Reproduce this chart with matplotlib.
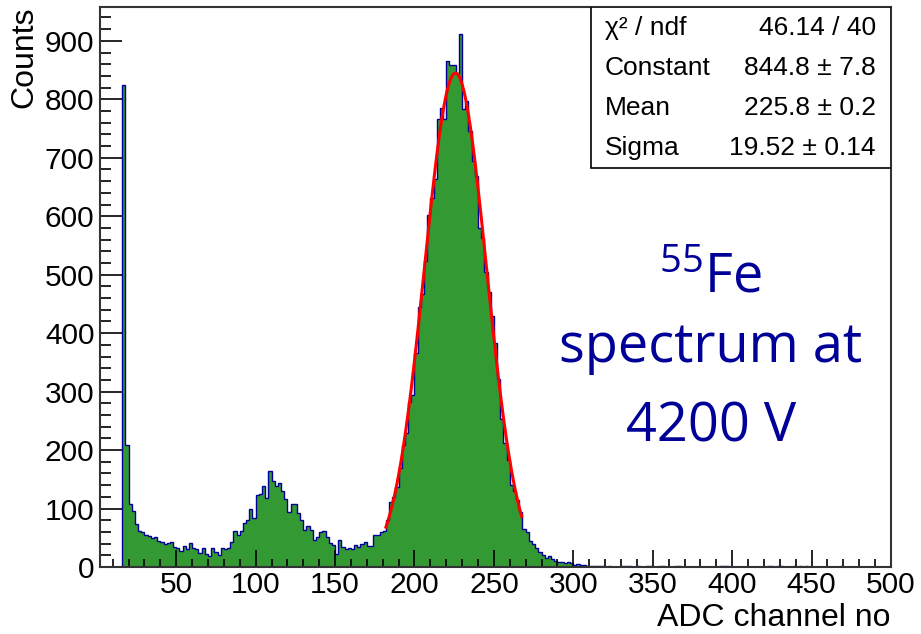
import numpy as np
import matplotlib
matplotlib.use('Agg')
import matplotlib.pyplot as plt
from matplotlib.ticker import MultipleLocator
from matplotlib.patches import Rectangle

plt.rcParams['font.family'] = ['Liberation Sans', 'DejaVu Sans']
plt.rcParams['mathtext.fontset'] = 'custom'
plt.rcParams['mathtext.rm'] = 'Open Sans'

# histogram: bins of 2 ADC channels, first bin starts at channel 16
bin_width = 2
first_bin = 16
counts_main = [
    825, 209, 108, 96, 73, 62, 60, 54, 53, 50,
    52, 45, 42, 40, 41, 42, 35, 33, 28, 36,
    31, 41, 32, 31, 24, 32, 23, 19, 32, 26,
    21, 32, 31, 32, 42, 61, 55, 62, 75, 80,
    100, 83, 123, 125, 138, 118, 165, 147, 138, 144,
    130, 116, 94, 108, 107, 93, 81, 64, 70, 63,
    47, 52, 59, 61, 51, 41, 38, 23, 46, 34,
    31, 32, 31, 38, 34, 39, 43, 36, 36, 54,
    55, 60, 62, 80, 112, 120, 136, 170, 208, 230,
    283, 295, 366, 444, 467, 524, 602, 632, 664, 767,
    786, 766, 866, 859, 859, 845, 912, 783, 798, 745,
    694, 668, 580, 562, 504, 470, 430, 384, 321, 253,
    212, 183, 141, 130, 114, 94, 65, 60, 45, 40,
    33, 26, 20, 15, 18, 13, 11, 9, 8, 7,
    9, 7, 4, 5, 3, 3, 2, 2, 1, 2,
    1, 1,
]
# isolated single-count bins in the tail (bin low edge)
tail_singles = [322, 330, 332, 334, 340, 346, 348, 354, 356, 364, 366,
                392, 394, 396, 422, 424, 428, 430, 438, 442, 446, 468]

# gaussian fit results from the stats box
fit_const, fit_mean, fit_sigma = 844.8, 225.8, 19.52
fit_range = (182, 267.5)

stats_rows = [
    ('\u03c7\u00b2 / ndf', '46.14 / 40'),
    ('Constant', '844.8 \u00b1 7.8'),
    ('Mean', '225.8 \u00b1 0.2'),
    ('Sigma', '19.52 \u00b1 0.14'),
]

edges = np.arange(first_bin, 500 + bin_width, bin_width)
counts = np.zeros(len(edges) - 1)
counts[:len(counts_main)] = counts_main
for ch in tail_singles:
    counts[(ch - first_bin) // bin_width] = 1

fig = plt.figure(figsize=(9.21, 6.34), dpi=100)
ax = fig.add_axes([0.1086, 0.1057, 0.8588, 0.8833])

ax.stairs(counts, edges, fill=True, color='#339933', lw=0)
ax.stairs(counts, edges, color='#000099', lw=1.0)

xf = np.linspace(fit_range[0], fit_range[1], 300)
yf = fit_const * np.exp(-0.5 * ((xf - fit_mean) / fit_sigma) ** 2)
ax.plot(xf, yf, color='red', lw=2.2)

ax.set_xlim(2, 500)
ax.set_ylim(0, 958)

for s in ['top', 'right', 'bottom', 'left']:
    ax.spines[s].set_linewidth(1.5)
    ax.spines[s].set_color('#333333')

ax.xaxis.set_major_locator(MultipleLocator(50))
ax.xaxis.set_minor_locator(MultipleLocator(10))
ax.yaxis.set_major_locator(MultipleLocator(100))
ax.yaxis.set_minor_locator(MultipleLocator(20))
ax.set_xticks([50, 100, 150, 200, 250, 300, 350, 400, 450, 500])
ax.tick_params(which='both', direction='in', top=False, right=False, colors='black', width=1.2)
ax.tick_params(axis='x', which='major', length=12, labelsize=21.5, pad=3)
ax.tick_params(axis='x', which='minor', length=6)
ax.tick_params(axis='y', which='major', length=16, labelsize=21.5, pad=4)
ax.tick_params(axis='y', which='minor', length=8)

ax.set_xlabel('ADC channel no', fontsize=23, loc='right', labelpad=3)
ax.set_ylabel('Counts', fontsize=23, loc='top', labelpad=4)

# stats box
ax.add_patch(Rectangle((0.6207, 0.7125), 0.3793, 0.2875, transform=ax.transAxes,
                       fill=True, facecolor='white', edgecolor='black', lw=1.2, zorder=5))
for i, (name, val) in enumerate(stats_rows):
    yy = 0.963 - i * 0.0715
    ax.text(0.6385, yy, name, transform=ax.transAxes, fontsize=19,
            ha='left', va='center', zorder=6)
    ax.text(0.981, yy, val, transform=ax.transAxes, fontsize=19,
            ha='right', va='center', zorder=6)

# annotation
ann_kw = dict(transform=ax.transAxes, color='#000099', ha='center', va='center',
              fontsize=39, family='Open Sans')
ax.text(0.772, 0.518, r'$\mathrm{^{55}Fe}$', **ann_kw)
ax.text(0.772, 0.392, 'spectrum at', **ann_kw)
ax.text(0.772, 0.25, '4200 V', **ann_kw)

fig.savefig('out.png', dpi=100)
